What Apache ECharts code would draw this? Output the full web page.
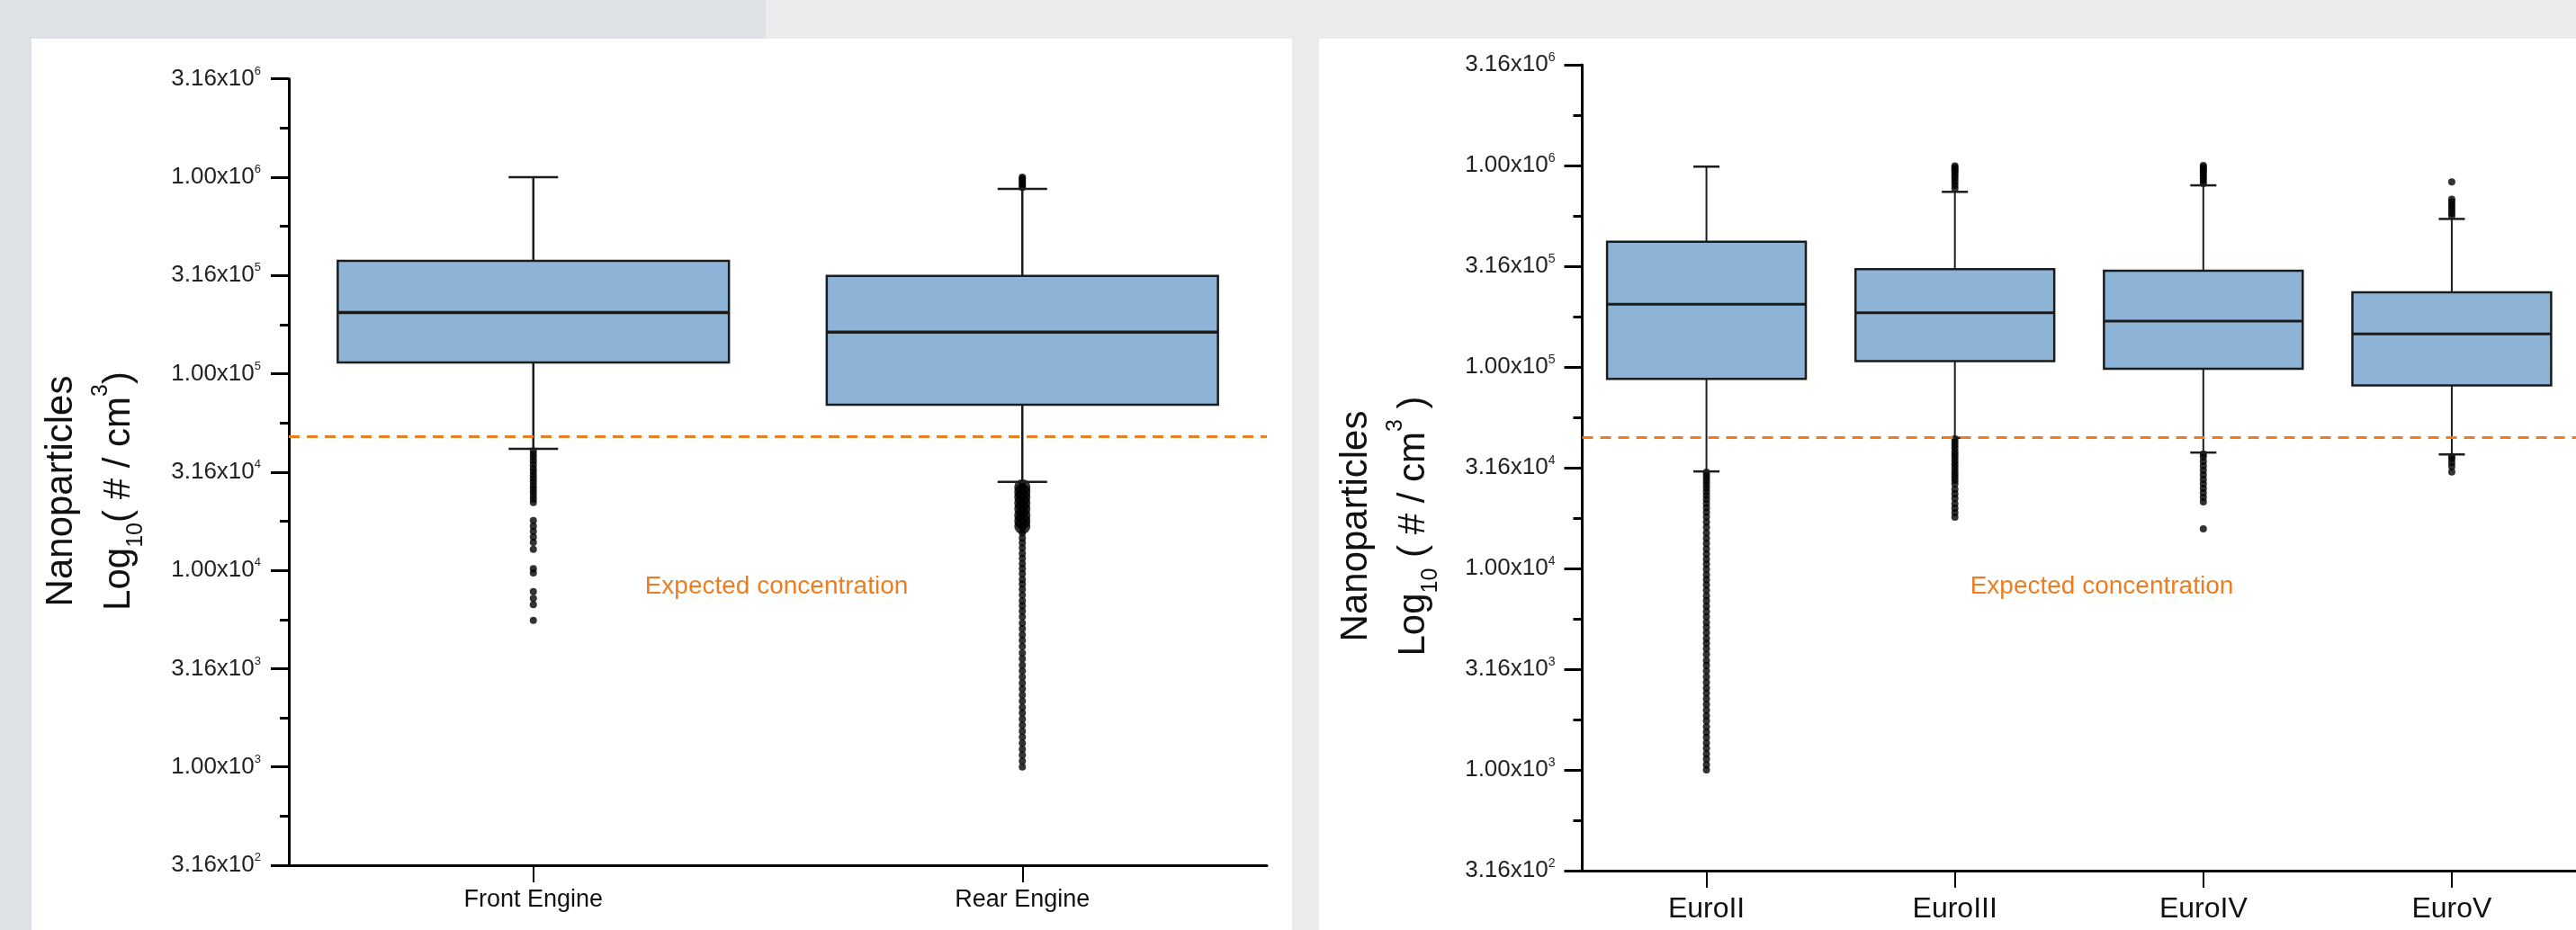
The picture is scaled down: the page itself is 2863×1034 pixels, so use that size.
<!DOCTYPE html>
<html>
<head>
<meta charset="utf-8">
<script src="https://cdn.jsdelivr.net/npm/echarts@6/dist/echarts.min.js"></script>
<style>
  html, body { margin: 0; padding: 0; width: 2863px; height: 1034px; overflow: hidden; background: #ebebeb; }
  #bgL { position: absolute; left: 0; top: 0; width: 851px; height: 1034px; background: #dee2e7; }
  #panelL { position: absolute; left: 35px; top: 43px; width: 1401px; height: 991px; background: #ffffff; }
  #panelR { position: absolute; left: 1466px; top: 43px; width: 1397px; height: 991px; background: #ffffff; }
  #chart { position: absolute; left: 0; top: 0; width: 2863px; height: 1034px; }
</style>
</head>
<body>
<div id="bgL"></div>
<div id="panelL"></div>
<div id="panelR"></div>
<div id="chart"></div>
<script>
// ---------------- DATA (nanoparticles, # / cm3) ----------------
const categoriesLeft = ['Front Engine', 'Rear Engine'];
const categoriesRight = ['EuroII', 'EuroIII', 'EuroIV', 'EuroV'];

// [lower whisker, Q1, median, Q3, upper whisker]
const boxFrontEngine = [41500, 114000, 205000, 375000, 1000000];
const boxRearEngine  = [28200, 69600, 163000, 315000, 872000];
const boxEuroII      = [30300, 87200, 205000, 418000, 987000];
const boxEuroIII     = [44500, 107000, 186000, 306000, 740000];
const boxEuroIV      = [37600, 98000, 169000, 300000, 797000];
const boxEuroV       = [36800, 80900, 146000, 235000, 543000];

// outliers
const outFrontEngine = [40500, 39000, 37500, 36000, 34500, 33000, 31800, 30500, 29300, 28200, 27000, 26000,
  25000, 24000, 23000, 22100, 17900, 16800, 15800, 14800, 13900, 12800, 10200, 9700, 7800, 7200, 6700, 5560];
const outRearEngine = [1000000, 985000, 965000, 945000, 925000, 905000, 885000,
  27500, 26500, 25500, 24500, 23500, 22500, 21500, 20500, 19500, 18500, 17500, 16500, 15500, 14600, 13800,
  13000, 12200, 11500, 10800, 10200, 9600, 9000, 8500, 8000, 7500, 7000, 6600, 6200, 5800, 5400, 5050, 4700,
  4400, 4100, 3800, 3550, 3300, 3080, 2870, 2670, 2490, 2320, 2160, 2010, 1880, 1750, 1630, 1520, 1420,
  1320, 1230, 1150, 1070, 1000];
// densest part of the rear-engine outlier cloud (points overlap into a wider band)
const outRearEngineCluster = [26500, 25000, 23500, 22000, 20500, 19000, 17800, 16800];
const outEuroII = [30000, 29000, 28000, 27000, 26000, 25000, 24000, 23000, 22000, 21000, 20000, 19000, 18000,
  17000, 16000, 15000, 14100, 13300, 12500, 11800, 11100, 10500, 9900, 9300, 8800, 8300, 7800, 7300, 6900,
  6500, 6100, 5750, 5400, 5100, 4800, 4500, 4250, 4000, 3750, 3500, 3300, 3100, 2900, 2720, 2550, 2400, 2250,
  2110, 1980, 1860, 1750, 1640, 1540, 1450, 1360, 1280, 1200, 1130, 1060, 1000];
const outEuroIII = [995000, 975000, 955000, 935000, 910000, 885000, 860000, 830000, 800000, 770000,
  44000, 42500, 41000, 39500, 38000, 36700, 35400, 34100, 32900, 31700, 30500, 29400, 28400, 27400, 26300,
  24700, 23500, 22300, 20950, 19900, 18900, 17950];
const outEuroIV = [1000000, 980000, 960000, 940000, 915000, 890000, 865000, 840000, 815000,
  37000, 35800, 34000, 32300, 30700, 29100, 27700, 26300, 24950, 23700, 22500, 21400, 15700];
const outEuroV = [828000, 680000, 660000, 640000, 620000, 600000, 580000, 562000,
  36000, 35000, 33500, 32000, 30100];

// expected concentration reference line
const expectedLeft = 47600;
const expectedRight = 44900;

// y tick labels (log10 axis from 10^2.5 to 10^6.5, every half decade)
const yTickLabels = ['3.16x10^2', '1.00x10^3', '3.16x10^3', '1.00x10^4', '3.16x10^4',
  '1.00x10^5', '3.16x10^5', '1.00x10^6', '3.16x10^6'];
const yLogMin = 2.5, yLogMax = 6.5, yLogStep = 0.5;

// ---------------- STYLE ----------------
const FONT = '"Liberation Sans", Arial, Helvetica, sans-serif';
const ORANGE = '#ee7d22';
const BOX_FILL = '#8db4d6';
const INK = '#1c1c1c';

const lg = v => Math.log10(v);

function yAxisCfg(gridIndex, supSize, margin) {
  return {
    type: 'value', gridIndex: gridIndex,
    min: yLogMin, max: yLogMax, interval: yLogStep,
    axisLine: { show: true, lineStyle: { color: '#000', width: 3 } },
    axisTick: { show: true, length: 20, lineStyle: { color: '#000', width: 3 } },
    minorTick: { show: true, splitNumber: 2, length: 10, lineStyle: { color: '#000', width: 3 } },
    splitLine: { show: false },
    axisLabel: {
      margin: margin,
      formatter: function (v) {
        const idx = Math.round((v - yLogMin) / yLogStep);
        const parts = (yTickLabels[idx] || '').split('^');
        return '{m|' + parts[0] + '}{e|' + parts[1] + '}';
      },
      rich: {
        m: { fontSize: 26, fontFamily: FONT, color: '#222', lineHeight: 30 },
        e: { fontSize: supSize, fontFamily: FONT, color: '#222', lineHeight: supSize + 2, verticalAlign: 'top' }
      }
    }
  };
}

function xAxisCfg(gridIndex, cats, fontSize, margin) {
  return {
    type: 'category', gridIndex: gridIndex, data: cats,
    axisLine: { show: true, lineStyle: { color: '#000', width: 3 } },
    axisTick: { show: true, alignWithLabel: true, length: 19, lineStyle: { color: '#000', width: 2 } },
    axisLabel: { fontSize: fontSize, fontFamily: FONT, color: '#111', margin: margin },
    splitLine: { show: false }
  };
}

function boxRenderer(capHalf, whiskerW, medianW) {
  return function (params, api) {
    const c = api.value(0);
    const band = api.size([1, 0])[0];
    const half = band * 0.4;
    const pMin = api.coord([c, api.value(1)]);
    const pQ1 = api.coord([c, api.value(2)]);
    const pMed = api.coord([c, api.value(3)]);
    const pQ3 = api.coord([c, api.value(4)]);
    const pMax = api.coord([c, api.value(5)]);
    const x = pMed[0];
    const line = (x1, y1, x2, y2, w) => ({
      type: 'line', shape: { x1: x1, y1: y1, x2: x2, y2: y2 },
      style: { stroke: INK, lineWidth: w }
    });
    return {
      type: 'group',
      children: [
        line(x, pQ3[1], x, pMax[1], whiskerW),
        line(x, pQ1[1], x, pMin[1], whiskerW),
        line(x - capHalf, pMax[1], x + capHalf, pMax[1], 2.5),
        line(x - capHalf, pMin[1], x + capHalf, pMin[1], 2.5),
        { type: 'rect', shape: { x: x - half, y: pQ3[1], width: 2 * half, height: pQ1[1] - pQ3[1] },
          style: { fill: BOX_FILL, stroke: INK, lineWidth: 2.5 } },
        line(x - half, pMed[1], x + half, pMed[1], medianW)
      ]
    };
  };
}

function boxSeries(idx, boxes, capHalf, whiskerW, medianW) {
  return {
    type: 'custom', xAxisIndex: idx, yAxisIndex: idx, z: 3, silent: true,
    renderItem: boxRenderer(capHalf, whiskerW, medianW),
    encode: { x: 0, y: [1, 2, 3, 4, 5] },
    data: boxes.map((b, i) => [i].concat(b.map(lg)))
  };
}

function pointsOf(outs) {
  const data = [];
  outs.forEach((arr, i) => arr.forEach(v => { if (v != null) data.push([i, lg(v)]); }));
  return data;
}

function outlierSeries(idx, outs, expected, size) {
  return {
    type: 'scatter', xAxisIndex: idx, yAxisIndex: idx, z: 2, silent: true,
    symbol: 'circle', symbolSize: size,
    itemStyle: { color: '#000' },
    data: pointsOf(outs),
    markLine: {
      silent: true, symbol: ['none', 'none'], label: { show: false },
      lineStyle: { color: ORANGE, width: 3, type: [12, 8] },
      data: [{ yAxis: lg(expected) }]
    }
  };
}

function clusterSeries(idx, outs, size) {
  return {
    type: 'scatter', xAxisIndex: idx, yAxisIndex: idx, z: 2, silent: true,
    symbol: 'circle', symbolSize: size,
    itemStyle: { color: '#000' },
    data: pointsOf(outs)
  };
}

function titleText(x, y, logLine) {
  return {
    type: 'text', x: x, y: y, rotation: Math.PI / 2, z: 10,
    style: {
      text: '{n|Nanoparticles}\n' + logLine,
      align: 'center', verticalAlign: 'middle',
      textAlign: 'center', textVerticalAlign: 'middle',
      fill: '#111',
      rich: {
        n: { fontSize: 42, fontFamily: FONT, fill: '#111', color: '#111', lineHeight: 64, align: 'center' },
        l: { fontSize: 42, fontFamily: FONT, fill: '#111', color: '#111', lineHeight: 64 },
        s: { fontSize: 25, fontFamily: FONT, fill: '#111', color: '#111', lineHeight: 30, verticalAlign: 'bottom' },
        p: { fontSize: 25, fontFamily: FONT, fill: '#111', color: '#111', lineHeight: 30, verticalAlign: 'top' }
      }
    }
  };
}

function expectedText(x, y) {
  return {
    type: 'text', x: x, y: y, z: 10,
    style: {
      text: 'Expected concentration',
      align: 'center', verticalAlign: 'middle',
      textAlign: 'center', textVerticalAlign: 'middle',
      fontSize: 28, fontFamily: FONT, fill: ORANGE
    }
  };
}

const chart = echarts.init(document.getElementById('chart'), null, { renderer: 'canvas' });
chart.setOption({
  animation: false,
  backgroundColor: 'transparent',
  grid: [
    { left: 321, top: 87.7, width: 1087, height: 874.3 },
    { left: 1758.5, top: 72, width: 1117, height: 896 }
  ],
  xAxis: [
    xAxisCfg(0, categoriesLeft, 27, 25),
    xAxisCfg(1, categoriesRight, 32, 27)
  ],
  yAxis: [
    yAxisCfg(0, 13, 31),
    yAxisCfg(1, 14, 30)
  ],
  series: [
    outlierSeries(0, [outFrontEngine, outRearEngine], expectedLeft, 8),
    clusterSeries(0, [[], outRearEngineCluster], 18),
    boxSeries(0, [boxFrontEngine, boxRearEngine], 27.5, 2.5, 3.5),
    outlierSeries(1, [outEuroII, outEuroIII, outEuroIV, outEuroV], expectedRight, 8),
    boxSeries(1, [boxEuroII, boxEuroIII, boxEuroIV, boxEuroV], 14.5, 2, 3)
  ],
  graphic: [
    titleText(100, 546, '{l|Log}{s|10}{l|( # / cm}{p|3}{l|)}'),
    titleText(1539, 585, '{l|Log}{s|10}{l| ( # / cm}{p|3}{l| )}'),
    expectedText(863, 652),
    expectedText(2336, 652)
  ]
});
</script>
</body>
</html>
